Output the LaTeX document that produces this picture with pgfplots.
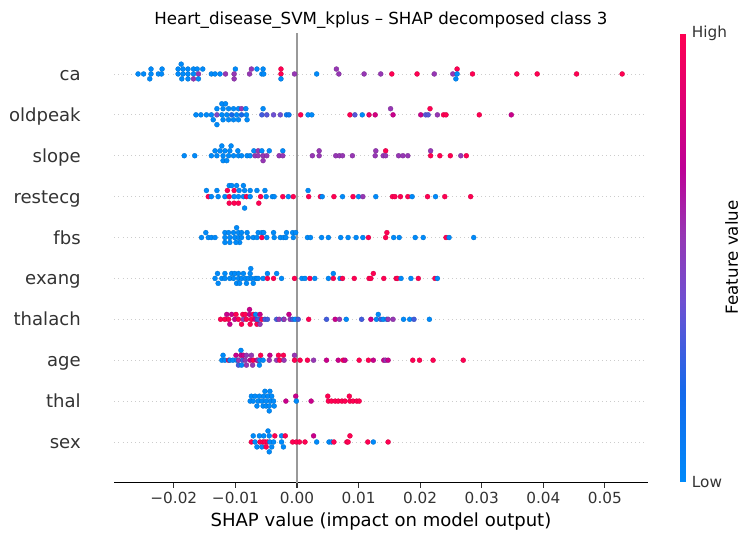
\documentclass[border=0pt]{standalone}
\usepackage{pgfplots}
\usepackage{pgfplotstable}
\pgfplotsset{compat=1.18}
\usepackage{fontspec}
\setmainfont{DejaVu Sans}
\definecolor{axgray}{HTML}{333333}
\definecolor{zerogray}{HTML}{999999}
\definecolor{gridgray}{HTML}{CCCCCC}

\pgfplotstableread{
x y c
-0.0258 9 0
-0.0249 9 0
-0.0237 9.12 0
-0.0237 9 0
-0.0239 8.88 0
-0.0225 9 0
-0.0220 9 0
-0.0219 9.12 0
-0.0188 9.24 0
-0.0193 9.12 0
-0.0185 9.12 0
-0.0177 9.12 0
-0.0168 9.12 0
-0.0162 9.12 0
-0.0153 9.12 0
-0.0193 9 0
-0.0185 9 0
-0.0177 9 0
-0.0168 9 0
-0.0160 9 0.55
-0.0187 8.88 0
-0.0177 8.88 0
-0.0168 8.88 0.55
-0.0160 8.88 0
-0.0139 9 0
-0.0133 9 0
-0.0125 9 0
-0.0116 9 0.55
-0.0100 9.12 0
-0.0102 9 0.55
-0.0102 8.88 0.55
-0.0077 9 0.55
-0.0074 9.12 0.55
-0.0065 9.12 0
-0.0055 9.12 0
-0.0057 9 0
-0.0054 9 0
-0.0026 9.12 1
-0.0026 9 1
-0.0026 8.88 0
-0.0004 9 0.55
0.0032 9 0
0.0064 9.12 0.55
0.0068 9 0.55
0.0109 9 0.55
0.0136 9 0.55
0.0154 9 1
0.0195 9 1
0.0223 9 0.55
0.0253 9 0.55
0.0260 9.12 1
0.0260 9 0
0.0258 8.88 0
0.0285 9 1
0.0357 9 1
0.0390 9 1
0.0454 9 1
0.0528 9 1
-0.0164 8 0
-0.0156 8 0
-0.0147 8 0
-0.0139 8 0
-0.0122 8.27 0
-0.0116 8.27 0
-0.0130 8.15 0
-0.0120 8.15 0
-0.0111 8.15 0
-0.0103 8.15 0
-0.0095 8.15 0
-0.0090 8.15 0.55
-0.0083 8.15 0
-0.0055 8.15 0
-0.0130 8 0.45
-0.0122 8 0
-0.0114 8 0
-0.0106 8 0.2
-0.0098 8 0
-0.0090 8 0.2
-0.0082 8 0
-0.0136 7.88 0
-0.0120 7.88 0
-0.0111 7.88 0
-0.0103 7.88 0
-0.0095 7.88 0
-0.0081 7.88 0
-0.0130 7.76 0
-0.0057 8 0.3
-0.0049 8 0.35
-0.0038 8 0.4
-0.0027 8 0.4
-0.0017 8 0.1
-0.0013 8 0.1
0.0006 8 1
0.0018 8 0
0.0024 8 0
0.0086 8 1
0.0094 8 0.35
0.0106 8 0
0.0117 8 0.9
0.0127 8 0.8
0.0152 8.15 0.55
0.0156 8 0.75
0.0201 8 0.75
0.0209 8 0.35
0.0213 8 0.35
0.0216 8.15 1
0.0228 8 0.55
0.0238 8 1
0.0242 8 1
0.0296 8 1
0.0348 8 0.75
-0.0183 7 0
-0.0166 7 0
-0.0139 7 0
-0.0133 7.12 0
-0.0130 7 0
-0.0125 7.12 0
-0.0122 7.24 0
-0.0120 7 0
-0.0117 7.12 0
-0.0120 6.88 0
-0.0114 6.88 0
-0.0111 7 0
-0.0109 7.12 0
-0.0107 7.24 0
-0.0103 7 0
-0.0096 7.12 0
-0.0095 7 0
-0.0090 7 0
-0.0081 7 0
-0.0076 7 0
-0.0070 7.12 0
-0.0068 7 0.55
-0.0063 7.12 0.55
-0.0063 7 0.55
-0.0057 7.12 0
-0.0055 7 0.55
-0.0055 6.88 0.55
-0.0049 7 0.55
-0.0045 7.12 0
-0.0029 7 0.55
-0.0023 7.12 0
-0.0023 7 0.55
0.0025 7 0.55
0.0036 7.12 0.55
0.0036 7 0.55
0.0063 7 0.55
0.0069 7 0.55
0.0074 7 0.55
0.0090 7 0.55
0.0128 7.12 0.55
0.0127 7 0.55
0.0140 7 0.55
0.0144 7.12 1
0.0144 7 0.55
0.0165 7 0.55
0.0172 7 0.55
0.0180 7 0.55
0.0217 7.12 0.55
0.0217 7 1
0.0232 7 1
0.0249 7 1
0.0266 7 0.55
0.0275 7 1
-0.0147 6.15 0
-0.0144 6 1
-0.0139 6 0
-0.0130 6.15 0
-0.0128 6 0
-0.0117 6 0
-0.0113 6.15 1
-0.0110 6.27 0
-0.0110 6 1
-0.0110 5.84 1
-0.0106 6.27 0
-0.0102 6.15 1
-0.0102 6 0
-0.0102 5.84 1
-0.0098 6.27 0
-0.0095 6 0
-0.0095 5.84 1
-0.0094 6.15 0
-0.0087 6.27 0
-0.0085 6.15 0
-0.0087 6 0
-0.0082 6 1
-0.0085 5.72 0
-0.0076 6.15 0
-0.0076 6 0
-0.0065 6.15 0
-0.0062 5.84 1
-0.0059 6 1
-0.0052 6.15 0
-0.0050 6 0
-0.0040 6 0
-0.0037 6 0
-0.0023 6 1
-0.0014 6 0
-0.0006 6 1
0.0018 6.15 0
0.0019 6 1
0.0038 6 1
0.0041 6 0
0.0060 6 1
0.0074 6 0
0.0091 6 1
0.0100 6 0
0.0107 6 0.55
0.0128 6 0
0.0155 6 1
0.0159 6 1
0.0168 6 1
0.0180 6 1
0.0187 6 0
0.0212 6 1
0.0225 6 0
0.0240 6 1
0.0282 6 1
-0.0155 5 0
-0.0148 5.12 0
-0.0144 5 0
-0.0139 5 0
-0.0133 5 0
-0.0117 5.12 0
-0.0117 5 0
-0.0117 4.88 0
-0.0111 5.12 0
-0.0109 5 0
-0.0109 4.88 0
-0.0103 5.12 0
-0.0101 5 0
-0.0098 5.24 0
-0.0095 5.12 0
-0.0095 5 0
-0.0093 4.88 0
-0.0090 5.12 0
-0.0090 5 0
-0.0099 4.88 0
-0.0081 5.12 0
-0.0079 5 0
-0.0071 5 0
-0.0063 5.12 0
-0.0065 5 0
-0.0057 5.12 0
-0.0057 5 1
-0.0054 5.12 0
-0.0049 5 0
-0.0038 5.12 0
-0.0037 5 0
-0.0027 5 0
-0.0022 5 0
-0.0017 5.12 0
-0.0018 5 0
-0.0007 5.12 0
-0.0006 5 0
-0.0002 5.12 0
0.0017 5 0
0.0022 5 0
0.0040 5 0
0.0051 5 0
0.0071 5 0
0.0083 5 0
0.0096 5 0
0.0107 5 0
0.0116 5 1
0.0146 5.12 1
0.0144 5 1
0.0157 5 0
0.0166 5 0
0.0192 5 0
0.0205 5 0
0.0242 5 1
0.0247 5 0
0.0287 5 0
-0.0133 4 0
-0.0129 4.12 0
-0.0128 3.88 0
-0.0122 4 0
-0.0117 4.12 0
-0.0117 4 0
-0.0109 4 0
-0.0106 4.12 0
-0.0103 4 0
-0.0101 4.12 0
-0.0098 3.88 0
-0.0095 4 0
-0.0095 4.12 0
-0.0093 3.88 0
-0.0090 4 0
-0.0087 4.12 0
-0.0084 4 0
-0.0082 3.88 0
-0.0079 4 0
-0.0076 4.12 0
-0.0075 4.24 0
-0.0074 4 0
-0.0071 3.88 0
-0.0068 4 0
-0.0065 4 0
-0.0063 4 0
-0.0055 4 0
-0.0048 4.12 0
-0.0048 4 1
-0.0038 4 1
-0.0033 4.12 0
-0.0025 4 0
-0.0004 4 1
0.0008 4 0
0.0013 4 0
0.0021 4 1
0.0029 4 0
0.0051 4 0
0.0059 4.12 0
0.0059 4 1
0.0070 4 0
0.0074 4 1
0.0093 4 1
0.0117 4 1
0.0120 4 1
0.0124 4.12 1
0.0141 4 1
0.0161 4 1
0.0163 4 1
0.0169 4 0
0.0185 4 0
0.0197 4 1
0.0224 4 1
0.0228 4 0
-0.0124 3 1
-0.0117 3 1
-0.0114 3.12 0.75
-0.0111 3 1
-0.0109 2.88 0.75
-0.0106 3.12 0.75
-0.0101 3 0.75
-0.0099 3.12 1
-0.0095 3 1
-0.0090 2.88 1
-0.0088 3.12 1
-0.0087 3 0.55
-0.0084 3.12 1
-0.0082 3 1
-0.0077 3.24 0.75
-0.0077 3.12 0.75
-0.0076 2.88 1
-0.0074 3 1
-0.0071 3.12 1
-0.0068 3 0.75
-0.0067 3.12 0
-0.0065 2.88 1
-0.0064 3 0
-0.0063 3 0.3
-0.0060 3.12 0.75
-0.0060 2.88 0.55
-0.0057 3 1
-0.0052 3 0.3
-0.0048 3 0.3
-0.0033 3 0.3
-0.0029 3 0.55
-0.0022 3 0
-0.0021 3 0.55
-0.0013 3.12 0.75
-0.0011 3 0.55
-0.0007 3 0.3
-0.0003 3 0
0.0002 3 0.3
0.0019 3 1
0.0048 3 0.3
0.0062 3 0.75
0.0069 3 0.55
0.0080 3 0
0.0105 3 0.3
0.0120 3 0.75
0.0129 3 0
0.0132 3.12 0
0.0136 3 0.3
0.0140 3 0
0.0146 3 0
0.0148 3 0.55
0.0156 3 0.55
0.0173 3 0
0.0183 3 0
0.0190 3 0.3
0.0215 3 0
-0.0122 2 0
-0.0120 2.12 0
-0.0117 2 0
-0.0111 2 1
-0.0109 2 0
-0.0104 2 0
-0.0099 2.12 0.75
-0.0098 2 0
-0.0095 1.88 0.3
-0.0095 2 0.55
-0.0091 2.24 0
-0.0091 2.12 0.75
-0.0090 1.88 0
-0.0088 2 0.3
-0.0087 2.12 0.75
-0.0084 2 0.55
-0.0082 2.12 0.55
-0.0082 1.88 0.55
-0.0076 2 0.75
-0.0074 2.12 0.55
-0.0072 1.88 0.55
-0.0071 2 1
-0.0065 2 0.75
-0.0063 2 0.55
-0.0061 1.88 0
-0.0060 2 0
-0.0059 2.12 1
-0.0055 2 0
-0.0044 2.12 0.75
-0.0045 2 0.55
-0.0033 2 0.55
-0.0030 2.12 1
-0.0028 2 1
-0.0022 2.12 1
-0.0021 2 0.55
-0.0004 2.12 0.55
-0.0004 2 1
0.0005 2 1
0.0017 2 1
0.0027 2 0.55
0.0048 2 0.75
0.0067 2 0.75
0.0075 2 1
0.0078 2 0.75
0.0101 2 1
0.0116 2 1
0.0124 2 0.75
0.0141 2 0.75
0.0144 2 0.55
0.0148 2 0.75
0.0188 2 1
0.0199 2 1
0.0221 2 1
0.0270 2 1
-0.0076 1 0
-0.0074 1.12 0
-0.0071 1 0
-0.0068 1.12 0
-0.0065 0.88 0
-0.0063 1 0
-0.0061 1.12 0
-0.0057 1 0
-0.0055 0.88 0
-0.0054 1.12 0
-0.0052 1.24 0
-0.0050 1 0
-0.0050 0.88 0
-0.0047 1.12 0
-0.0045 0.88 0
-0.0045 0.76 0
-0.0044 1.24 0
-0.0043 1 0
-0.0041 1.12 0
-0.0038 1 0
-0.0037 0.88 0
-0.0018 1 0.75
-0.0002 1.12 0.75
-0.0001 1 0
0.0023 1 0.75
0.0050 1.12 1
0.0051 1 1
0.0056 1 1
0.0062 1 1
0.0067 1 1
0.0073 1 1
0.0078 1 1
0.0085 1.12 1
0.0086 1 1
0.0091 1 1
0.0097 1 1
0.0101 1 1
-0.0074 0 1
-0.0071 0.15 0
-0.0068 0 0
-0.0065 -0.12 0
-0.0061 0.15 0
-0.0060 0 1
-0.0057 -0.12 0
-0.0055 0 1
-0.0054 0.15 0
-0.0052 0 1
-0.0050 -0.12 1
-0.0048 0 1
-0.0047 0.27 0
-0.0045 0.15 0
-0.0045 -0.24 0
-0.0044 0 0
-0.0041 -0.12 0
-0.0038 0 0
-0.0036 0.15 1
-0.0025 0 0
-0.0025 0.15 0
-0.0022 -0.12 0
-0.0019 0.15 1
-0.0007 0 1
-0.0001 0 1
0.0004 0 1
0.0013 0 1
0.0027 0.15 0.75
0.0032 0 0
0.0052 0 0
0.0056 0 0
0.0060 0 1
0.0081 0 1
0.0083 0 1
0.0086 0.15 1
0.0115 0 1
0.0124 0 0
0.0148 0 1
}\shapdata

\begin{document}
\begin{tikzpicture}
\useasboundingbox (-82.3pt,-41.1pt) rectangle (459.9pt,347.7pt);
\begin{axis}[
  at={(0pt,0pt)}, anchor=south west,
  scale only axis, width=384pt, height=323.9pt,
  xmin=-0.02966, xmax=0.05693, ymin=-1, ymax=10,
  axis lines*=left,
  x axis line style={black, line width=0.8pt},
  y axis line style={draw=none},
  xtick={-0.02,-0.01,0,0.01,0.02,0.03,0.04,0.05},
  xticklabels={−0.02,−0.01,0.00,0.01,0.02,0.03,0.04,0.05},
  scaled x ticks=false,
  ytick={0,1,2,3,4,5,6,7,8,9},
  yticklabels={sex,thal,age,thalach,exang,fbs,restecg,slope,oldpeak,ca},
  tick align=outside, major tick length=3.5pt,
  xtick style={color=axgray, line width=0.8pt},
  ytick style={draw=none},
  xticklabel style={font=\fontsize{11}{13}\selectfont, text=axgray, anchor=base, inner sep=0pt, yshift=-11.6pt},
  yticklabel style={font=\fontsize{13}{15}\selectfont, text=axgray, anchor=base east, inner sep=0pt, xshift=-20.5pt, yshift=-4.7pt},
  ymajorgrids,
  grid style={gridgray, line width=0.5pt, dash pattern=on 0.5pt off 2.5pt},
  xlabel={SHAP value (impact on model output)},
  xlabel style={font=\fontsize{13}{15}\selectfont, at={(axis description cs:0.5,0)}, anchor=base, inner sep=0pt, yshift=-31.7pt},
  title={Heart\_disease\_SVM\_kplus – SHAP decomposed class 3},
  title style={font=\fontsize{12}{14}\selectfont, at={(axis description cs:0.5,1)}, anchor=base, inner sep=0pt, yshift=0.5pt},
  colormap={shapcm}{rgb255(0pt)=(0,138,250); rgb255(20pt)=(20,105,235); rgb255(40pt)=(110,80,210); rgb255(55pt)=(150,55,180); rgb255(70pt)=(190,0,150); rgb255(100pt)=(255,0,82)},
  point meta min=0, point meta max=1,
  colorbar,
  colorbar style={
    at={(parent axis.north east)}, anchor=north west, xshift=14.8pt,
    scale only axis, width=4.3pt, height=323pt,
    ytick={0,1}, yticklabels={Low,High},
    yticklabel style={font=\fontsize{11}{13}\selectfont, text=axgray, anchor=west, inner sep=0pt, xshift=4.1pt},
    major tick length=0pt,
    axis line style={draw=none},
    ylabel={Feature value},
    ylabel style={font=\fontsize{12}{14}\selectfont, at={(axis description cs:7.53,0.5)}, anchor=north, inner sep=0pt},
  },
]
\addplot[zerogray, line width=1.5pt, forget plot] coordinates {(0,-1) (0,10)};
\addplot[scatter, only marks, mark=*, mark size=1.8pt, mark options={line width=0.2pt}, scatter src=explicit]
  table[x=x, y=y, meta=c] {\shapdata};
\end{axis}
\end{tikzpicture}
\end{document}
